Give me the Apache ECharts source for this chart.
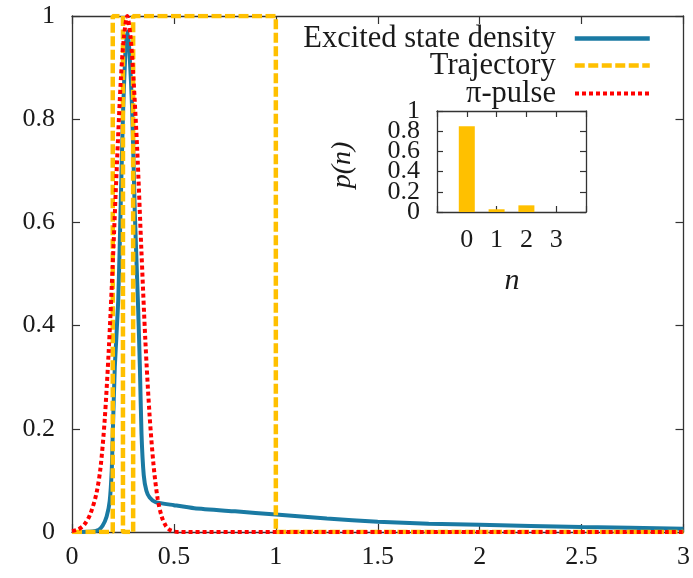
<!DOCTYPE html>
<html>
<head>
<meta charset="utf-8">
<script src="https://cdn.jsdelivr.net/npm/echarts@6/dist/echarts.min.js"></script>
<style>
html,body{margin:0;padding:0;background:#fff;}
#chart{width:693px;height:578px;}
</style>
</head>
<body>
<div id="chart"></div>
<script>
// ---- data ----
const densityX = [0, 0.1, 0.13, 0.15, 0.17, 0.185, 0.195, 0.2, 0.21, 0.227, 0.238, 0.251, 0.262, 0.272, 0.282, 0.295, 0.308, 0.324, 0.333, 0.341, 0.352, 0.365, 0.381, 0.41, 0.5, 0.6, 0.8, 1.0, 1.25, 1.5, 1.75, 2.0, 2.5, 3.0];
const densityY = [0, 0.001, 0.004, 0.012, 0.03, 0.06, 0.12, 0.19, 0.32, 0.45, 0.62, 0.82, 0.93, 0.97, 0.93, 0.82, 0.62, 0.44, 0.32, 0.19, 0.11, 0.08, 0.067, 0.058, 0.052, 0.046, 0.04, 0.034, 0.026, 0.02, 0.016, 0.014, 0.0095, 0.0065];

const trajectoryX = [0, 0.2, 0.2, 0.25, 0.25, 0.3, 0.3, 1, 1, 3];
const trajectoryY = [0, 0, 1, 1, 0, 0, 1, 1, 0, 0];

const pulseX = [0, 0.03, 0.06, 0.09, 0.12, 0.14, 0.16, 0.18, 0.2, 0.22, 0.24, 0.255, 0.271, 0.287, 0.3, 0.32, 0.34, 0.36, 0.38, 0.4, 0.42, 0.44, 0.46, 0.48, 0.52, 1, 2, 3];
const pulseY = [0.002, 0.005, 0.014, 0.035, 0.075, 0.125, 0.215, 0.35, 0.52, 0.71, 0.88, 0.96, 1.0, 0.96, 0.89, 0.74, 0.55, 0.37, 0.23, 0.13, 0.065, 0.03, 0.012, 0.004, 0, 0, 0, 0];

const insetN = [0, 1, 2, 3];
const insetP = [0.85, 0.027, 0.066, 0];

const xTickLabels = ['0', '0.5', '1', '1.5', '2', '2.5', '3'];
const yTickLabels = ['0', '0.2', '0.4', '0.6', '0.8', '1'];
const insetXTickLabels = ['0', '1', '2', '3'];
const seriesNames = ['Excited state density', 'Trajectory', '\u03c0-pulse'];

// ---- build ----
const zip = (a, b) => a.map((v, i) => [v, b[i]]);
const FONT = '"Liberation Serif", "DejaVu Serif", serif';
const TXT = '#1a1a1a';
const AX = '#333';
const BLUE = '#1a7aa3', YEL = '#ffc000', RED = '#ff0000';

const mainTick = {show: true, inside: true, length: 8, lineStyle: {color: AX, width: 1.2}};
const insetTick = {show: true, inside: true, length: 6, lineStyle: {color: AX, width: 1.2}};
const axLine = {show: true, onZero: false, lineStyle: {color: AX, width: 1.3}};

const chart = echarts.init(document.getElementById('chart'));
const legendBase = (name, top, lw) => ({
  data: [name], right: 36, top: top, align: 'right', orient: 'horizontal',
  itemWidth: 75, itemHeight: 14, selectedMode: false,
  itemStyle: {opacity: 0},
  lineStyle: {width: lw},
  textStyle: {fontFamily: FONT, fontSize: 30.5, color: TXT, padding: [0, 14, 0, 0]}
});

// inset y labels split across two label-only axes so the tightly packed labels are not culled
const insetLabelAxis = (parity, showMin, showMax) => ({
  gridIndex: 1, type: 'value', min: 0, max: 1, interval: 0.2, position: 'left',
  axisLine: {show: false}, axisTick: {show: false}, splitLine: {show: false},
  axisLabel: {margin: 17, fontFamily: FONT, fontSize: 26, color: TXT,
    showMinLabel: showMin, showMaxLabel: showMax,
    formatter: v => { const i = Math.round(v / 0.2); return (i % 2 === parity) ? yTickLabels[i] : ''; }}
});

chart.setOption({
  animation: false,
  backgroundColor: '#fff',
  grid: [
    {left: 72, top: 16, width: 613, height: 516},
    {left: 437, top: 111, width: 149, height: 101}
  ],
  legend: [
    legendBase(seriesNames[0], 18, 4.5),
    legendBase(seriesNames[1], 45, 4.5),
    legendBase(seriesNames[2], 73, 4)
  ],
  xAxis: [
    {gridIndex: 0, type: 'value', min: 0, max: 3, interval: 0.5, position: 'bottom',
     axisLine: axLine, axisTick: mainTick, splitLine: {show: false},
     axisLabel: {margin: 12, fontFamily: FONT, fontSize: 26, color: TXT,
       formatter: v => xTickLabels[Math.round(v / 0.5)]}},
    {gridIndex: 0, type: 'value', min: 0, max: 3, interval: 0.5, position: 'top',
     axisLine: axLine, axisTick: mainTick, splitLine: {show: false}, axisLabel: {show: false}},
    {gridIndex: 1, type: 'value', min: -1, max: 4, interval: 1, position: 'bottom',
     axisLine: axLine, axisTick: insetTick, splitLine: {show: false},
     axisLabel: {margin: 15, fontFamily: FONT, fontSize: 26, color: TXT,
       formatter: v => (v >= 0 && v <= 3) ? insetXTickLabels[v] : ''}},
    {gridIndex: 1, type: 'value', min: -1, max: 4, interval: 1, position: 'top',
     axisLine: axLine, axisTick: insetTick, splitLine: {show: false}, axisLabel: {show: false}}
  ],
  yAxis: [
    {gridIndex: 0, type: 'value', min: 0, max: 1, interval: 0.2, position: 'left',
     axisLine: axLine, axisTick: mainTick, splitLine: {show: false},
     axisLabel: {margin: 17, fontFamily: FONT, fontSize: 26, color: TXT,
       formatter: v => yTickLabels[Math.round(v / 0.2)]}},
    {gridIndex: 0, type: 'value', min: 0, max: 1, interval: 0.2, position: 'right',
     axisLine: axLine, axisTick: mainTick, splitLine: {show: false}, axisLabel: {show: false}},
    {gridIndex: 1, type: 'value', min: 0, max: 1, interval: 0.2, position: 'left',
     axisLine: axLine, axisTick: insetTick, splitLine: {show: false}, axisLabel: {show: false}},
    {gridIndex: 1, type: 'value', min: 0, max: 1, interval: 0.2, position: 'right',
     axisLine: axLine, axisTick: insetTick, splitLine: {show: false}, axisLabel: {show: false}},
    insetLabelAxis(0, true, null),
    insetLabelAxis(1, null, true)
  ],
  series: [
    {name: seriesNames[0], type: 'line', xAxisIndex: 0, yAxisIndex: 0,
     data: zip(densityX, densityY), symbol: 'none', smooth: 0.2,
     itemStyle: {color: BLUE}, lineStyle: {color: BLUE, width: 4}, z: 2},
    {name: seriesNames[1], type: 'line', xAxisIndex: 0, yAxisIndex: 0,
     data: zip(trajectoryX, trajectoryY), symbol: 'none',
     itemStyle: {color: YEL}, lineStyle: {color: YEL, width: 4.5, type: [10, 3.5]}, z: 3},
    {name: seriesNames[2], type: 'line', xAxisIndex: 0, yAxisIndex: 0,
     data: zip(pulseX, pulseY), symbol: 'none', smooth: 0.3,
     itemStyle: {color: RED}, lineStyle: {color: RED, width: 4, type: [4, 3], cap: 'butt'}, z: 4},
    {name: 'inset', type: 'bar', xAxisIndex: 2, yAxisIndex: 2,
     data: zip(insetN, insetP), barWidth: 16, itemStyle: {color: YEL}, z: 5}
  ],
  graphic: [
    {type: 'text', x: 343, y: 165, rotation: Math.PI / 2, z: 10,
     style: {text: 'p(n)', fontFamily: FONT, fontStyle: 'italic', fontSize: 28, fill: TXT,
             textAlign: 'center', textVerticalAlign: 'middle'}},
    {type: 'text', x: 512, y: 281, z: 10,
     style: {text: 'n', fontFamily: FONT, fontStyle: 'italic', fontSize: 30, fill: TXT,
             textAlign: 'center', textVerticalAlign: 'middle'}}
  ]
});
</script>
</body>
</html>
